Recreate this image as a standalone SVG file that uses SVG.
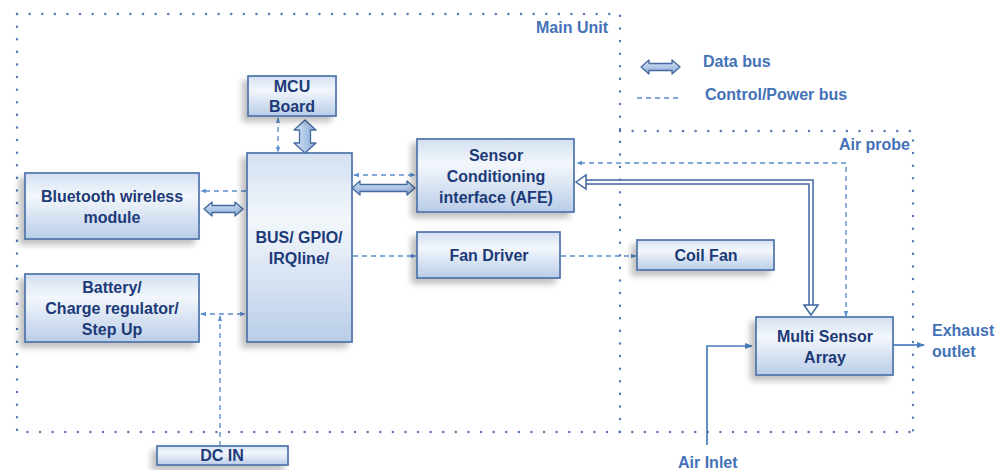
<svg xmlns="http://www.w3.org/2000/svg" width="997" height="470" viewBox="0 0 997 470">
<defs>
<linearGradient id="boxg" x1="0" y1="0" x2="0" y2="1">
<stop offset="0" stop-color="#d3e0f1"/>
<stop offset="0.35" stop-color="#f3f7fc"/>
<stop offset="1" stop-color="#b9cde8"/>
</linearGradient>
<linearGradient id="arrg" x1="0" y1="0" x2="0" y2="1">
<stop offset="0" stop-color="#dbe7f6"/>
<stop offset="1" stop-color="#86a9d9"/>
</linearGradient>
<linearGradient id="arrgv" x1="0" y1="0" x2="1" y2="0">
<stop offset="0" stop-color="#dbe7f6"/>
<stop offset="1" stop-color="#86a9d9"/>
</linearGradient>
<filter id="sh" x="-20%" y="-20%" width="140%" height="160%">
<feGaussianBlur in="SourceAlpha" stdDeviation="3"/>
<feOffset dx="-5" dy="5" result="b"/>
<feComponentTransfer><feFuncA type="linear" slope="0.25"/></feComponentTransfer>
<feMerge><feMergeNode/><feMergeNode in="SourceGraphic"/></feMerge>
</filter>
<marker id="ah" viewBox="0 0 8 8" refX="7" refY="4" markerWidth="6" markerHeight="6" orient="auto-start-reverse" markerUnits="userSpaceOnUse">
<path d="M0,1 L8,4 L0,7 z" fill="#5b8fd0"/>
</marker>
<marker id="ahs" viewBox="0 0 8 8" refX="7" refY="4" markerWidth="8" markerHeight="8" orient="auto" markerUnits="userSpaceOnUse">
<path d="M0,1 L8,4 L0,7 z" fill="#4a7cc0"/>
</marker>
</defs>
<style>
.box{fill:url(#boxg);stroke:#4e74aa;stroke-width:1.7;filter:url(#sh)}
.t{font-family:"Liberation Sans",Arial,sans-serif;font-weight:bold;font-size:16px;fill:#1c3a78;text-anchor:middle}
.lbl{font-family:"Liberation Sans",Arial,sans-serif;font-weight:bold;font-size:16px;fill:#4472b8}
.dot{fill:none;stroke:#5579b0;stroke-width:2.4;stroke-dasharray:0.1 12.5;stroke-linecap:round}
.dash{fill:none;stroke:#5b8fd0;stroke-width:1.4;stroke-dasharray:5 4}
.fat{fill:url(#arrg);stroke:#46699e;stroke-width:1.3;stroke-linejoin:round}
.fatv{fill:url(#arrgv);stroke:#46699e;stroke-width:1.3;stroke-linejoin:round}
.sol{fill:none;stroke:#4a7cc0;stroke-width:1.7}
</style>

<g id="frames">
<path class="dot" d="M17,14 H620 V432"/>
<path class="dot" d="M17,14 V432 H913"/>
<path class="dot" d="M620,131 H913 V432"/>
<text class="lbl" x="608" y="33" text-anchor="end">Main Unit</text>
<text class="lbl" x="910" y="150" text-anchor="end">Air probe</text>
</g>

<g id="legend">
<polygon class="fat" points="641,67 649,60 649,63.5 672,63.5 672,60 680,67 672,74 672,70.5 649,70.5 649,74"/>
<text class="lbl" x="703" y="67">Data bus</text>
<line class="dash" x1="637" y1="98" x2="682" y2="98"/>
<text class="lbl" x="705" y="100">Control/Power bus</text>
</g>

<g id="connectors">
<line class="dash" x1="278" y1="118" x2="278" y2="152" marker-start="url(#ah)" marker-end="url(#ah)"/>
<polygon class="fatv" points="305,120 316,130 310.5,130 310.5,143 316,143 305,153 294,143 299.5,143 299.5,130 294,130"/>
<line class="dash" x1="246" y1="191" x2="201" y2="191" marker-end="url(#ah)"/>
<polygon class="fat" points="204,209 212,202 212,205.5 235,205.5 235,202 243,209 235,216 235,212.5 212,212.5 212,216"/>
<line class="dash" x1="201" y1="314" x2="245" y2="314" marker-start="url(#ah)" marker-end="url(#ah)"/>
<line class="dash" x1="220" y1="446" x2="220" y2="316" marker-end="url(#ah)"/>
<line class="dash" x1="354" y1="175" x2="415" y2="175" marker-start="url(#ah)" marker-end="url(#ah)"/>
<polygon class="fat" points="352,188 360,181 360,184.5 407,184.5 407,181 415,188 407,195 407,191.5 360,191.5 360,195"/>
<line class="dash" x1="353" y1="256" x2="416" y2="256" marker-end="url(#ah)"/>
<line class="dash" x1="561" y1="256" x2="636" y2="256" marker-end="url(#ah)"/>
<path class="dash" d="M846,316 V163 H577" marker-start="url(#ah)" marker-end="url(#ah)"/>
<path d="M811,305 V182 H586" fill="none" stroke="#3f66a0" stroke-width="5.5"/>
<path d="M811,306 V182 H585" fill="none" stroke="#ffffff" stroke-width="2.5"/>
<polygon points="576,182 586,175 586,189" fill="#ffffff" stroke="#3f66a0" stroke-width="1.5"/>
<polygon points="811,315 804,305 818,305" fill="#ffffff" stroke="#3f66a0" stroke-width="1.5"/>
<path class="sol" d="M707,445 V346 H752" marker-end="url(#ahs)"/>
<line class="sol" x1="893" y1="345" x2="924" y2="345" marker-end="url(#ahs)"/>
</g>

<g id="mcu">
<rect class="box" x="248" y="76" width="88" height="40"/>
<text class="t" x="292" y="92">MCU</text>
<text class="t" x="292" y="112">Board</text>
</g>
<g id="bus">
<rect class="box" x="247" y="153" width="105" height="189"/>
<text class="t" x="299" y="243">BUS/ GPIO/</text>
<text class="t" x="299" y="264">IRQline/</text>
</g>
<g id="bluetooth">
<rect class="box" x="25" y="173" width="174" height="66"/>
<text class="t" x="112" y="202">Bluetooth wireless</text>
<text class="t" x="112" y="223">module</text>
</g>
<g id="battery">
<rect class="box" x="25" y="274" width="174" height="68"/>
<text class="t" x="112" y="293">Battery/</text>
<text class="t" x="112" y="314">Charge regulator/</text>
<text class="t" x="112" y="335">Step Up</text>
</g>
<g id="sensor">
<rect class="box" x="417" y="139" width="157" height="73"/>
<text class="t" x="496" y="161">Sensor</text>
<text class="t" x="496" y="182">Conditioning</text>
<text class="t" x="496" y="203">interface (AFE)</text>
</g>
<g id="fandriver">
<rect class="box" x="417" y="232" width="143" height="46"/>
<text class="t" x="489" y="261">Fan Driver</text>
</g>
<g id="coilfan">
<rect class="box" x="637" y="240" width="137" height="30"/>
<text class="t" x="706" y="261">Coil Fan</text>
</g>
<g id="multisensor">
<rect class="box" x="756" y="317" width="137" height="58"/>
<text class="t" x="825" y="342">Multi Sensor</text>
<text class="t" x="825" y="363">Array</text>
</g>
<g id="dcin">
<rect class="box" x="157" y="446" width="131" height="19"/>
<text class="t" x="222" y="461">DC IN</text>
</g>
<g id="ports">
<text class="lbl" x="932" y="336">Exhaust</text>
<text class="lbl" x="932" y="357">outlet</text>
<text class="lbl" x="678" y="468">Air Inlet</text>
</g>
</svg>
